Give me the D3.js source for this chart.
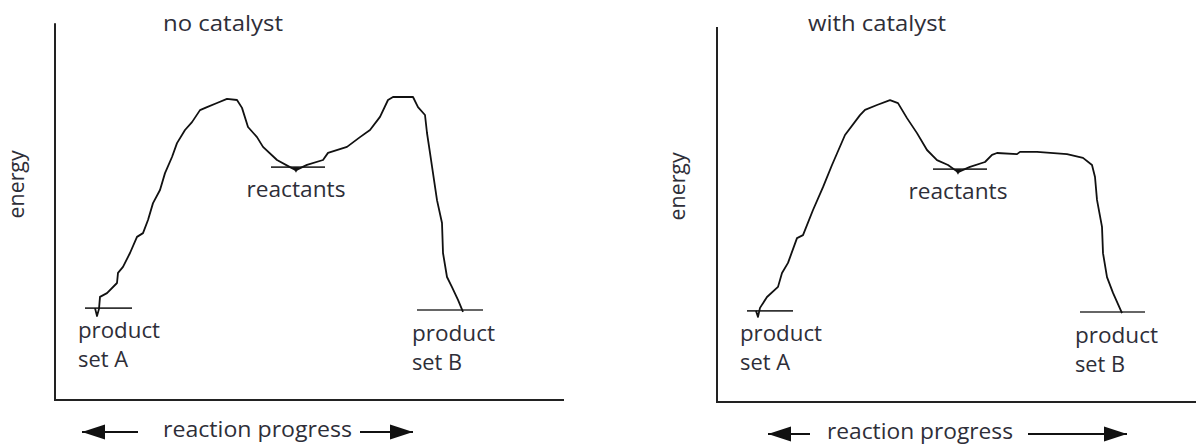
<!DOCTYPE html>
<html lang="en">
<head>
<meta charset="UTF-8">
<script src="https://d3js.org/d3.v7.min.js"></script>
<style>
  body { margin: 0; background: #fff; }
  text { font-family: "Open Sans", sans-serif; font-size: 21px; fill: #2e2e38; }
</style>
</head>
<body>
<div id="chart"></div>
<script>
// [reaction progress, energy], both on a 0-100 scale
var noCatalyst = [[8.0,24.5],[8.4,22.4],[8.8,24.3],[9.0,27.5],[10.4,28.5],[12.4,31.2],[12.6,33.9],[13.6,35.5],
  [15.0,39.2],[16.4,43.5],[17.6,44.5],[18.6,48.0],[19.6,52.5],[21.0,56.0],[22.0,60.5],[23.4,64.8],[24.4,68.5],
  [26.0,72.0],[27.4,74.1],[29.0,77.3],[30.4,78.1],[32.4,79.2],[34.4,80.3],[36.4,80.0],[37.4,77.9],[38.6,72.8],
  [40.4,70.1],[41.6,67.5],[44.4,64.0],[47.0,62.1],[48.2,61.3],[50.4,62.7],[53.6,64.0],[54.6,65.9],[58.4,67.5],
  [61.0,70.1],[63.0,72.0],[65.0,75.5],[66.6,80.0],[67.6,80.8],[71.6,80.8],[72.6,78.1],[74.0,76.0],[74.4,71.2],
  [75.0,65.9],[75.6,60.5],[76.4,53.3],[77.4,47.2],[77.6,39.2],[78.4,32.8],[79.4,30.1],[80.6,26.7],[81.6,23.5]];

var withCatalyst = [[7.8,24.3],[8.2,22.7],[8.6,25.1],[10.0,28.0],[12.2,30.7],[13.0,34.4],[14.2,37.1],[16.0,43.7],
  [17.2,44.5],[19.2,51.2],[21.2,57.3],[23.0,63.2],[25.6,71.2],[28.6,76.5],[29.6,77.9],[32.0,79.2],[34.6,80.5],
  [36.2,79.7],[38.0,75.7],[40.0,71.7],[42.0,67.2],[44.0,64.5],[46.2,63.2],[48.2,61.3],[50.6,62.7],[53.6,64.0],
  [55.0,65.9],[56.0,66.4],[60.0,66.1],[60.6,66.7],[64.0,66.7],[70.0,66.1],[73.2,65.1],[75.0,63.2],[75.6,60.0],
  [76.0,53.9],[77.0,46.7],[77.2,39.7],[78.0,33.3],[79.2,29.1],[81.0,23.7]];

// energy levels: [from, to, energy]  (product A, reactants, product B)
var levelsNo = [[6.0,15.4,24.5],[43.2,54.0,62.1],[72.4,85.6,24.0]];
var levelsCat = [[6.0,15.2,24.3],[43.2,54.0,62.1],[72.6,85.6,24.0]];

var titles = ["no catalyst", "with catalyst"];
var levelNames = [["product", "set A"], ["reactants"], ["product", "set B"]];
var yLabel = "energy";
var xLabel = "reaction progress";

// layout of the two panels
var panels = [
  {title: titles[0], curve: noCatalyst, levels: levelsNo, ox: 55, oy: 400, top: 100.5, xEnd: 101.8,
   titleX: 21.6, titleW: 120, xlabX: 21.6, xlabW: 189, arrowL: [5.4, 16.6], arrowR: [61, 71.6]},
  {title: titles[1], curve: withCatalyst, levels: levelsCat, ox: 717, oy: 402, top: 100, xEnd: 96,
   titleX: 18.2, titleW: 138, xlabX: 22, xlabW: 186, arrowL: [10.2, 18.6], arrowR: [62.2, 82]}
];

var width = 1196, height = 444;
var svg = d3.select("#chart").append("svg")
  .attr("width", width).attr("height", height);

var x = d3.scaleLinear().domain([0, 100]).range([0, 500]);
var y = d3.scaleLinear().domain([0, 100]).range([0, -375]);

var line = d3.line()
  .x(function(d) { return x(d[0]); })
  .y(function(d) { return y(d[1]); })
  .curve(d3.curveLinear);

panels.forEach(function(p) {
  var g = svg.append("g").attr("transform", "translate(" + p.ox + "," + p.oy + ")");

  // axes (plain lines, no ticks)
  g.append("path")
    .attr("d", "M" + x(0) + "," + y(p.top) + "V" + y(0) + "H" + x(p.xEnd))
    .attr("fill", "none").attr("stroke", "#222").attr("stroke-width", 2);

  // energy levels
  g.selectAll(".level").data(p.levels).enter().append("line")
    .attr("class", "level")
    .attr("x1", function(d) { return x(d[0]); })
    .attr("x2", function(d) { return x(d[1]); })
    .attr("y1", function(d) { return y(d[2]); })
    .attr("y2", function(d) { return y(d[2]); })
    .attr("stroke", "#333").attr("stroke-width", 1.7);

  // the energy curve
  g.append("path").datum(p.curve)
    .attr("d", line)
    .attr("fill", "none").attr("stroke", "#111").attr("stroke-width", 1.8)
    .attr("stroke-linejoin", "round");

  // little mark at the reactant minimum
  var minPt = p.curve.reduce(function(a, b) {
    return (b[0] > 40 && b[0] < 60 && b[1] < a[1]) ? b : a;
  }, [0, 100]);
  g.append("path")
    .attr("d", d3.symbol().type(d3.symbolTriangle).size(16))
    .attr("transform", "translate(" + x(minPt[0]) + "," + (y(minPt[1]) - 1) + ") rotate(180)")
    .attr("fill", "#111");

  // level labels
  var lab = [
    {lv: p.levels[0], dx: -7, dy: 30, lines: levelNames[0], w: [82, 50]},
    {lv: p.levels[1], dx: -24.5, dy: 30, lines: levelNames[1], w: [99]},
    {lv: p.levels[2], dx: -5, dy: 31, lines: levelNames[2], w: [83, 50]}
  ];
  lab.forEach(function(l) {
    l.lines.forEach(function(t, i) {
      g.append("text")
        .attr("x", x(l.lv[0]) + l.dx)
        .attr("y", y(l.lv[2]) + l.dy + i * 29)
        .attr("textLength", l.w[i])
        .attr("lengthAdjust", "spacingAndGlyphs")
        .text(t);
    });
  });

  // title
  g.append("text")
    .attr("x", x(p.titleX)).attr("y", 31 - p.oy)
    .attr("textLength", p.titleW).attr("lengthAdjust", "spacingAndGlyphs")
    .text(p.title);

  // y label
  g.append("text")
    .attr("transform", "translate(" + (p.ox === 55 ? -31 : -32) + "," + y(57.5) + ") rotate(-90)")
    .attr("text-anchor", "middle")
    .attr("textLength", 68).attr("lengthAdjust", "spacingAndGlyphs")
    .text(yLabel);

  // x label with arrows
  g.append("text")
    .attr("x", x(p.xlabX)).attr("y", 37)
    .attr("textLength", p.xlabW).attr("lengthAdjust", "spacingAndGlyphs")
    .text(xLabel);

  var ay = 32;
  function arrow(x1, x2, dir) {
    g.append("line")
      .attr("x1", x(x1)).attr("x2", x(x2))
      .attr("y1", ay).attr("y2", ay)
      .attr("stroke", "#111").attr("stroke-width", 2);
    var tip = dir < 0 ? x(x1) : x(x2);
    var back = tip - dir * 23;
    g.append("path")
      .attr("d", "M" + tip + "," + ay + "L" + back + "," + (ay - 7.5) + "L" + back + "," + (ay + 7.5) + "Z")
      .attr("fill", "#111");
  }
  arrow(p.arrowL[0], p.arrowL[1], -1);
  arrow(p.arrowR[0], p.arrowR[1], 1);
});
</script>
</body>
</html>
